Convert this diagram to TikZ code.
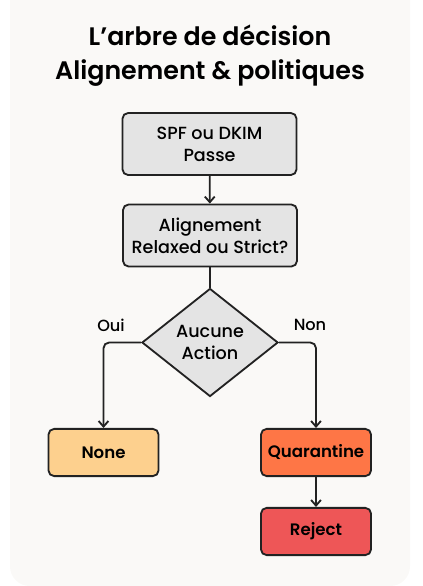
\documentclass[tikz,border=0pt]{standalone}
\usepackage{fontspec}
\setmainfont{Poppins}[UprightFont=* Medium, BoldFont=* SemiBold]
\usepackage{tikz}
\usetikzlibrary{arrows.meta,positioning,calc,shapes.geometric}
\usepackage{xcolor}
\definecolor{cardbg}{HTML}{FAF9F7}
\definecolor{boxgrey}{HTML}{E4E4E4}
\definecolor{edge}{HTML}{222222}
\definecolor{noneclr}{HTML}{FDD08E}
\definecolor{quarclr}{HTML}{FE7646}
\definecolor{rejclr}{HTML}{EE5657}

\begin{document}
\begin{tikzpicture}[
    x=0.025cm, y=-0.025cm,
    font=\fontsize{12.5}{15.5}\selectfont,
    stepbox/.style={draw=edge, line width=1.3pt, rounded corners=4pt, fill=boxgrey,
      minimum width=4.35cm, minimum height=1.55cm, align=center, inner sep=2pt},
    outbox/.style={draw=edge, line width=1.3pt, rounded corners=4pt,
      minimum width=2.75cm, minimum height=1.18cm, align=center, font=\fontsize{11.8}{15}\selectfont\bfseries},
    choice/.style={diamond, draw=edge, line width=1.3pt, fill=boxgrey, aspect=1.26,
      minimum width=3.4cm, minimum height=2.7cm, align=center, inner sep=0pt},
    ar/.style={-{Straight Barb[length=4pt,width=7pt]}, line width=1.3pt, draw=edge},
    lbl/.style={font=\fontsize{11.5}{14}\selectfont}
  ]
    \useasboundingbox (0,0) rectangle (422,586);
    \fill[cardbg, rounded corners=14pt] (10,-20) rectangle (410,586);

    \node[align=center, font=\fontsize{18}{24}\selectfont\bfseries] (title) at (210,56)
      {L’arbre de décision\\Alignement \& politiques};

    \node[stepbox] (spf) at (209.5,144) {SPF ou DKIM\\Passe};
    \node[stepbox] (align) at (210,235.5) {Alignement\\Relaxed ou Strict?};
    \node[choice] (act) at (210,342.5) {Aucune\\Action};

    \node[outbox, fill=noneclr] (none) at (103.5,452.5) {None};
    \node[outbox, fill=quarclr] (quar) at (316,452.5) {Quarantine};
    \node[outbox, fill=rejclr] (rej) at (316,531.5) {Reject};

    \draw[ar] (spf) -- (align);
    \draw[line width=1.3pt, draw=edge] (align) -- (act);
    \draw[ar, rounded corners=4pt] (act.west) -| (none.north);
    \draw[ar, rounded corners=4pt] (act.east) -| (quar.north);
    \draw[ar] (quar) -- (rej);

    \node[lbl] (oui) at (111,325) {Oui};
    \node[lbl] (non) at (310,325) {Non};
  \end{tikzpicture}
\end{document}
